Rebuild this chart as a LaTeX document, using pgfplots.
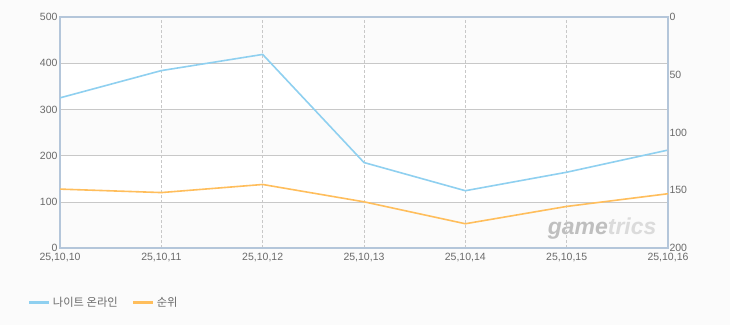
\documentclass[border=0pt]{standalone}
\usepackage{pgfplots}
\pgfplotsset{compat=1.18}
\usepackage{fontspec}
\setmainfont{Liberation Sans}
\newfontfamily\kr{Noto Sans CJK KR}
\definecolor{bg}{HTML}{FBFBFB}
\definecolor{axc}{HTML}{B4C6DA}
\definecolor{gridc}{HTML}{C8C8C8}
\definecolor{tickc}{HTML}{6A6A6A}
\definecolor{blueL}{HTML}{8FD0F0}
\definecolor{orangeL}{HTML}{FFBE5C}
\pgfplotsset{
  base/.style={width=608pt, height=231pt, scale only axis, xmin=0, xmax=6,
    major tick length=0,
    ticklabel style={font=\fontsize{10.5}{12}\selectfont, text=tickc},
    /pgf/number format/assume math mode=true},
}
\begin{document}
\begin{tikzpicture}
\fill[bg] (0pt,0pt) rectangle (730pt,325pt);
% background bands
\begin{axis}[base, name=bands, at={(60pt,77pt)}, anchor=south west,
  ymin=0, ymax=500, hide axis]
\fill[white] (axis cs:0,100) rectangle (axis cs:6,200);
\fill[white] (axis cs:0,300) rectangle (axis cs:6,400);
\node[font=\bfseries\itshape\fontsize{23}{24}\selectfont, text=gray!50, anchor=center] at (axis cs:5.35,43) {game\textcolor{gray!28}{trics}};
\end{axis}
\begin{axis}[base, name=main, at={(bands.center)}, anchor=center,
  ymin=0, ymax=500,
  xtick={0,...,6},
  xticklabels={25{,}10{,}10,25{,}10{,}11,25{,}10{,}12,25{,}10{,}13,25{,}10{,}14,25{,}10{,}15,25{,}10{,}16},
  ytick={0,100,...,500},
  ymajorgrids, xmajorgrids,
  y grid style={gridc, line width=0.6pt},
  x grid style={gridc, dash pattern=on 3pt off 2pt, line width=0.6pt},
  axis line style={axc, line width=1.6pt},
  xticklabel style={yshift=-2pt},
  yticklabel style={xshift=1pt},
  legend style={at={(-0.058,-0.238)}, anchor=west, draw=none, fill=none,
    font=\kr\fontsize{11.3}{13}\selectfont, text=tickc,
    /tikz/every even column/.append style={column sep=12pt}},
  legend columns=2,
  legend image code/.code={\draw[#1, line width=3pt] (0,0) -- (20pt,0);},
]
\addplot[blueL, line width=1.6pt] coordinates {
(0,325) (1,384) (2,419) (3,185) (4,124) (5,164) (6,212)};
\addlegendentry{나이트 온라인}
\addlegendimage{orangeL, line width=1.6pt}
\addlegendentry{순위}
\end{axis}
\begin{axis}[base, at={(bands.center)}, anchor=center,
  ymin=0, ymax=200, y dir=reverse,
  axis x line=none,
  axis y line*=right,
  ytick={0,50,...,200},
  axis line style={axc, line width=1.6pt},
  yticklabel style={xshift=-2pt},
]
\addplot[orangeL, line width=1.6pt] coordinates {
(0,149) (1,152) (2,145) (3,160) (4,179) (5,164) (6,153)};
\end{axis}
\end{tikzpicture}
\end{document}
